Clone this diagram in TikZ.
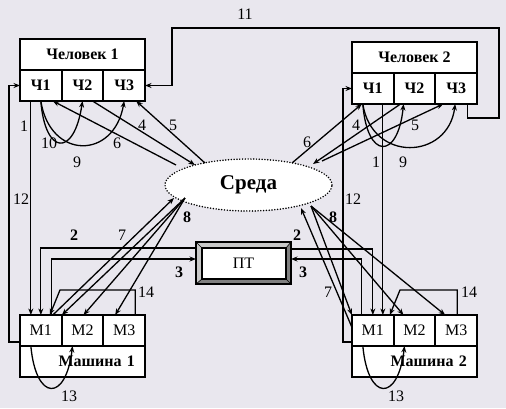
\documentclass[tikz,border=0pt]{standalone}
\usepackage{fontspec}
\setmainfont{Liberation Serif}
\usetikzlibrary{arrows.meta,positioning,shapes.geometric}

\definecolor{bgcol}{RGB}{233,231,238}
\definecolor{bevlight}{RGB}{200,200,200}
\definecolor{bevdark}{RGB}{128,128,128}

\tikzset{
    box/.style={draw, line width=2pt, fill=white, inner sep=0pt, outer sep=0pt, minimum height=31pt},
    headbox/.style={box, minimum width=125pt, font=\bfseries},
    cellbox/.style={box, minimum width=41.67pt},
    namebox/.style={box, text width=105pt, inner xsep=10pt, align=right, font=\bfseries},
    conn/.style={line width=1.3pt, ->},
    num/.style={inner sep=0pt},
    bnum/.style={inner sep=0pt, font=\bfseries},
}

\begin{document}
\fontsize{16}{19}\selectfont
\begin{tikzpicture}[x=1pt, y=-1pt, >={Stealth[length=6.5pt, width=5pt]}]
    \useasboundingbox[fill=bgcol] (0,0) rectangle (506,408);

    % people
    \node[headbox] (h1) at (82.5,54.5) {Человек 1};
    \node[cellbox, font=\bfseries, anchor=north west] (h1a) at (h1.south west) {Ч1};
    \node[cellbox, font=\bfseries, right=0pt of h1a] (h1b) {Ч2};
    \node[cellbox, font=\bfseries, right=0pt of h1b] (h1c) {Ч3};

    \node[headbox] (h2) at (414.5,57.5) {Человек 2};
    \node[cellbox, font=\bfseries, anchor=north west] (h2a) at (h2.south west) {Ч1};
    \node[cellbox, font=\bfseries, right=0pt of h2a] (h2b) {Ч2};
    \node[cellbox, font=\bfseries, right=0pt of h2b] (h2c) {Ч3};

    % machines
    \node[cellbox, anchor=north west] (m1a) at (20,315) {М1};
    \node[cellbox, right=0pt of m1a] (m1b) {М2};
    \node[cellbox, right=0pt of m1b] (m1c) {М3};
    \node[namebox, anchor=north west] (m1) at (m1a.south west) {Машина 1};

    \node[cellbox, anchor=north west] (m2a) at (352,315) {М1};
    \node[cellbox, right=0pt of m2a] (m2b) {М2};
    \node[cellbox, right=0pt of m2b] (m2c) {М3};
    \node[namebox, anchor=north west] (m2) at (m2a.south west) {Машина 2};

    % environment
    \node[ellipse, draw, fill=white, line width=1.7pt, line cap=round, dash pattern=on 0pt off 2.8pt,
          minimum width=167pt, minimum height=52pt, inner sep=0pt,
          font=\fontsize{21}{24}\selectfont\bfseries] (env) at (248.5,185) {Среда};
    \coordinate (e6a) at (176,165);
    \coordinate (e4a) at (195,165);
    \coordinate (e5a) at (205,163);
    \coordinate (e6b) at (292,163);
    \coordinate (e4b) at (313,164);
    \coordinate (e5b) at (322,161);
    \coordinate (e7a) at (174,198);
    \coordinate (e8a) at (185,198);
    \coordinate (e7b) at (301,208);
    \coordinate (e8b) at (311,206);

    % bevelled box
    \node[draw, line width=1.5pt, fill=white, minimum width=95pt, minimum height=42pt,
          inner sep=0pt, outer sep=0pt] (pt) at (243.5,263) {ПТ};
    \fill[bevlight] (196,242) -- (291,242) -- (286,248) -- (202,248) -- (202,279) -- (196,284) -- cycle;
    \fill[bevdark] (291,242) -- (291,284) -- (196,284) -- (202,279) -- (286,279) -- (286,248) -- cycle;
    \draw[line width=1.5pt] (196,242) rectangle (291,284);
    \draw[line width=1.3pt] (202,248) rectangle (286,279);
    \draw[line width=0.6pt] (196,242) -- (202,248) (291,242) -- (286,248) (196,284) -- (202,279) (291,284) -- (286,279);

    % left side
    \draw[conn] ([xshift=-10pt]h1a.south) -- ([xshift=-10pt]m1a.north);
    \draw[conn] ([yshift=4pt]m1a.south west) -- ++(-11,0) |- (h1a.west);
    \draw[conn] (h1a.south) .. controls (45,155) and (74,158) .. (h1b.south);
    \draw[conn] (h1a.south) .. controls (50,160) and (114,160) .. (h1c.south);
    \draw[conn] (e6a) -- ([xshift=12pt]h1a.south);
    \draw[conn] ([xshift=10pt]h1b.south) -- (e4a);
    \draw[conn] (e5a) -- ([xshift=12pt]h1c.south);

    \draw[conn] ([yshift=15pt]pt.west) -| (m1a.north);
    \draw[conn] ([xshift=11pt]m1a.north) |- ([yshift=4pt]pt.west);
    \draw[conn] ([xshift=11pt]m1c.north) -- ++(0,-25) -- (60,290) -- ([xshift=9pt]m1a.north);
    \draw[conn] ([xshift=12pt]m1a.north) -- (e7a);
    \foreach \nd/\dx in {m1a/21, m1b/1, m1c/-9}
        \draw[conn] (e8a) -- ([xshift=\dx pt]\nd.north);
    \draw[conn] ([xshift=-10pt]m1a.south) .. controls (36,402) and (66,402) .. ([xshift=-10pt]m1b.south);

    % right side
    \draw[conn] ([xshift=10pt]h2a.south) -- ([xshift=10pt]m2a.north);
    \draw[conn] ([yshift=4pt]m2a.south west) -- ++(-9,0) |- (h2a.west);
    \draw[conn] ([xshift=-10pt]h2a.south) .. controls (367,160) and (398,160) .. ([xshift=-11pt]h2b.south);
    \draw[conn] ([xshift=-10pt]h2a.south) .. controls (372,163) and (448,160) .. ([xshift=-1pt]h2c.south);
    \draw[conn] (e6b) -- ([xshift=-11pt]h2a.south);
    \draw[conn] ([xshift=-14pt]h2b.south) -- (e4b);
    \draw[conn] (e5b) -- ([xshift=-13pt]h2c.south);
    \draw[conn] ([xshift=11pt]h2c.south) |- (499,118) |- (172,28) |- (h1c.east);

    \draw[conn] ([yshift=14pt]pt.east) -| (m2a.north);
    \draw[conn] ([xshift=-11pt]m2a.north) |- ([yshift=4pt]pt.east);
    \draw[conn] ([xshift=1pt]m2c.north) -- ++(0,-25) -- (400,290) -- ([xshift=17pt]m2a.north);
    \draw[conn] ([yshift=3pt]m2a.west) -- (e7b);
    \foreach \nd/\dx in {m2a/-21, m2b/-11, m2c/-11}
        \draw[conn] (e8b) -- ([xshift=\dx pt]\nd.north);
    \draw[conn] ([xshift=-10pt]m2a.south) .. controls (368,402) and (398,402) .. ([xshift=-10pt]m2b.south);

    % numbers
    \node[num] (l11) at (245,14) {11};
    \node[num] (l1a) at (24,126) {1};
    \node[num] (l12a) at (21,199) {12};
    \node[num] (l10a) at (49,143) {10};
    \node[num] (l9a) at (77,162) {9};
    \node[num] (l6a) at (117,143) {6};
    \node[num] (l4a) at (142,125) {4};
    \node[num] (l5a) at (173,125) {5};
    \node[num] (l6b) at (307,142) {6};
    \node[num] (l4b) at (356,125) {4};
    \node[num] (l5b) at (415,125) {5};
    \node[num] (l1b) at (376,162) {1};
    \node[num] (l9b) at (403,162) {9};
    \node[num] (l12b) at (353,199) {12};
    \node[bnum] (l2a) at (74,235) {2};
    \node[num] (l7a) at (122,235) {7};
    \node[bnum] (l8a) at (187,217) {8};
    \node[bnum] (l3a) at (179,272) {3};
    \node[num] (l14a) at (146,292) {14};
    \node[num] (l13a) at (69,396) {13};
    \node[bnum] (l2b) at (297,235) {2};
    \node[bnum] (l3b) at (303,272) {3};
    \node[bnum] (l8b) at (333,217) {8};
    \node[num] (l7b) at (328,292) {7};
    \node[num] (l14b) at (469,292) {14};
    \node[num] (l13b) at (396,396) {13};
\end{tikzpicture}
\end{document}
